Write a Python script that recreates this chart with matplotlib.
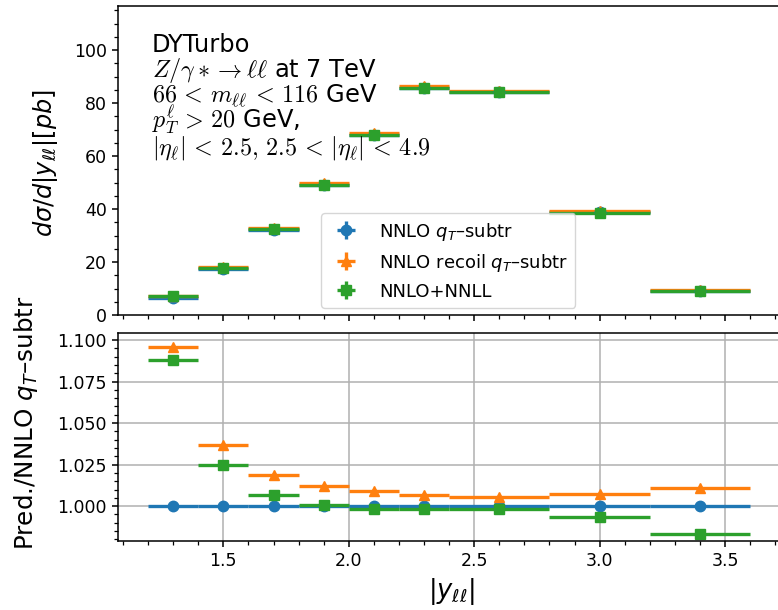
import numpy as np
import matplotlib
matplotlib.use("Agg")
import matplotlib.pyplot as plt
from matplotlib.ticker import AutoMinorLocator, MultipleLocator

# ---- data ----
bin_lo = [1.2, 1.4, 1.6, 1.8, 2.0, 2.2, 2.4, 2.8, 3.2]
bin_hi = [1.4, 1.6, 1.8, 2.0, 2.2, 2.4, 2.8, 3.2, 3.6]
xs_nnlo = [6.6, 17.5, 32.1, 49.2, 68.1, 85.8, 84.3, 38.9, 9.25]          # NNLO qT-subtr [pb]
ratio_recoil = [1.096, 1.037, 1.019, 1.012, 1.009, 1.0066, 1.0055, 1.0073, 1.011]
ratio_nnll = [1.088, 1.025, 1.0064, 1.0004, 0.9985, 0.9985, 0.998, 0.9935, 0.9835]
labels = [r"NNLO $q_T$–subtr", r"NNLO recoil $q_T$–subtr", "NNLO+NNLL"]

lo = np.array(bin_lo); hi = np.array(bin_hi)
xc = 0.5 * (lo + hi)
xe = 0.5 * (hi - lo)
base = np.array(xs_nnlo)
series = [base, base * np.array(ratio_recoil), base * np.array(ratio_nnll)]
ratios = [np.ones_like(base), np.array(ratio_recoil), np.array(ratio_nnll)]
colors = ["#1f77b4", "#ff7f0e", "#2ca02c"]
markers = ["o", "^", "s"]

plt.rcParams.update({
    "font.size": 12.5,
    "axes.linewidth": 1.1,
    "xtick.major.size": 4.5, "ytick.major.size": 4.5,
    "xtick.minor.size": 2.6, "ytick.minor.size": 2.6,
    "xtick.major.width": 1.1, "ytick.major.width": 1.1,
    "xtick.minor.width": 0.9, "ytick.minor.width": 0.9,
})

fig = plt.figure(figsize=(7.78, 6.10), dpi=100)
ax1 = fig.add_axes([0.1517, 0.4836, 0.8560, 0.5066])
ax2 = fig.add_axes([0.1517, 0.1131, 0.8560, 0.3410], sharex=ax1)

for y, c, m, lab in zip(series, colors, markers, labels):
    ax1.errorbar(xc, y, xerr=xe, yerr=0.006 * y, fmt=m, color=c, ms=7.5,
                 elinewidth=2.4, capsize=0, label=lab)

for r, c, m in zip(ratios, colors, markers):
    ax2.errorbar(xc, r, xerr=xe, fmt=m, color=c, ms=7.5, elinewidth=2.4, capsize=0)

ax1.set_xlim(1.08, 3.735)
ax1.set_ylim(0, 116.7)
ax2.set_ylim(0.979, 1.1042)

ax1.yaxis.set_major_locator(MultipleLocator(20))
ax1.yaxis.set_minor_locator(AutoMinorLocator(4))
ax2.yaxis.set_major_locator(MultipleLocator(0.025))
ax2.yaxis.set_minor_locator(AutoMinorLocator(5))
ax2.xaxis.set_major_locator(MultipleLocator(0.5))
ax2.xaxis.set_minor_locator(AutoMinorLocator(5))
ax2.yaxis.set_major_formatter(matplotlib.ticker.FormatStrFormatter("%.3f"))
ax1.tick_params(axis="x", which="both", labelbottom=False)
ax2.grid(True, which="major", color="#b0b0b0", linewidth=1.1)
ax2.set_axisbelow(True)

ax1.set_ylabel(r"$d\sigma/d|y_{\ell\ell}|[pb]$", fontsize=17.3)
ax2.set_ylabel(r"Pred./NNLO $q_T$–subtr", fontsize=17.7)
ax2.set_xlabel(r"$|y_{\ell\ell}|$", fontsize=18.5)
ax1.yaxis.set_label_coords(-0.087, 0.493)
ax2.yaxis.set_label_coords(-0.117, 0.567)

leg = ax1.legend(loc="lower left", bbox_to_anchor=(0.305, 0.023), borderaxespad=0,
                 fontsize=13, frameon=True)

ann = ["DYTurbo",
       r"$Z/\gamma* \rightarrow \ell\ell$ at 7 TeV",
       r"$66 \,<\, m_{\ell\ell} \,<\, 116$ GeV",
       r"$p_T^{\ell} \,>\, 20$ GeV,",
       r"$|\eta_\ell| \,<\, 2.5,\, 2.5 \,<\, |\eta_\ell| \,<\, 4.9$"]
baselines = [52, 77, 102, 128, 154]
for t, b in zip(ann, baselines):
    fig.text(152 / 778, 1 - b / 610, t, fontsize=17.4, va="baseline", ha="left",
             math_fontfamily="cm")

fig.savefig("out.png", dpi=100)
